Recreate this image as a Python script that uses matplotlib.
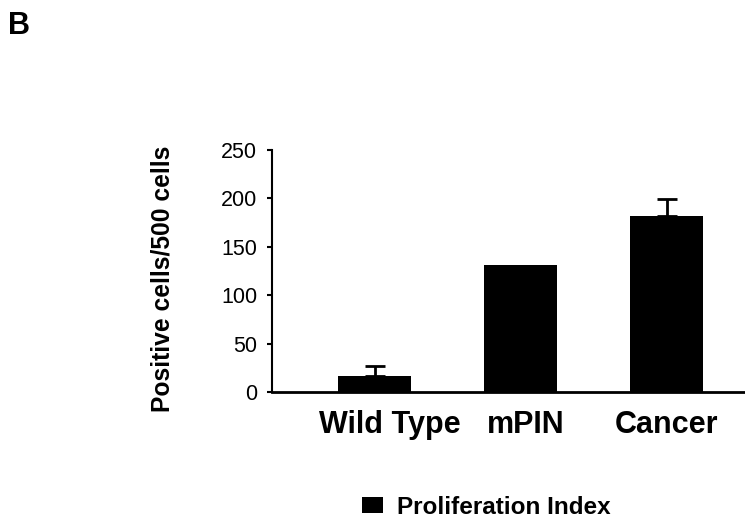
import numpy as np
import matplotlib
matplotlib.use("Agg")
import matplotlib.pyplot as plt
import matplotlib.transforms as mtransforms
from matplotlib.patches import Patch

plt.rcParams['font.family'] = ['Liberation Sans', 'DejaVu Sans']

groups = ["Wild Type", "mPIN", "Cancer"]
values = [17, 131, 182]
errors = [10, 0, 17]
yticks = [0, 50, 100, 150, 200, 250]
legend_label = "Proliferation Index"

# small horizontal nudges of the category labels (pixels), as in the original
label_shift = [15, 5, 0]

fig = plt.figure(figsize=(7.45, 5.21), dpi=100)
ax = fig.add_axes([0.365, 0.2476, 0.635, 0.4645])

x = np.arange(len(groups))
ax.bar(x, values, width=0.5, color="black", zorder=2)
err = np.array(errors, dtype=float)
has_err = err > 0
ax.errorbar(x[has_err], np.array(values)[has_err],
            yerr=[np.zeros(has_err.sum()), err[has_err]], fmt="none",
            ecolor="black", elinewidth=2, capsize=7, capthick=2, zorder=3)

ax.set_xlim(-0.703, 2.536)
ax.set_ylim(0, 250)
ax.set_yticks(yticks)
ax.set_xticks(x)
ax.set_xticklabels(groups, fontsize=22, fontweight="bold")
ax.tick_params(axis="x", length=0, pad=13)
ax.tick_params(axis="y", labelsize=15.5, length=3.5, width=1.5,
               direction="out", pad=7)
for lab, dx in zip(ax.get_xticklabels(), label_shift):
    lab.set_transform(lab.get_transform() +
                      mtransforms.ScaledTranslation(dx / 100, 0, fig.dpi_scale_trans))

for s in ["top", "right"]:
    ax.spines[s].set_visible(False)
ax.spines["left"].set_linewidth(1.5)
ax.spines["bottom"].set_linewidth(2)

fig.text(163 / 745, 1 - 279 / 521, "Positive cells/500 cells", rotation=90,
         ha="center", va="center", fontsize=17.7, fontweight="bold")
fig.text(8 / 745, 1 - 26 / 521, "B", ha="left", va="center",
         fontsize=22, fontweight="bold")

fig.legend(handles=[Patch(facecolor="black", label=legend_label)],
           loc="center left", bbox_to_anchor=(362 / 745, 1 - 507 / 521),
           frameon=False, prop={"size": 17.5, "weight": "bold"},
           borderpad=0, borderaxespad=0, handlelength=0.875,
           handleheight=0.63, handletextpad=0.58)

fig.savefig("out.png", dpi=100)
